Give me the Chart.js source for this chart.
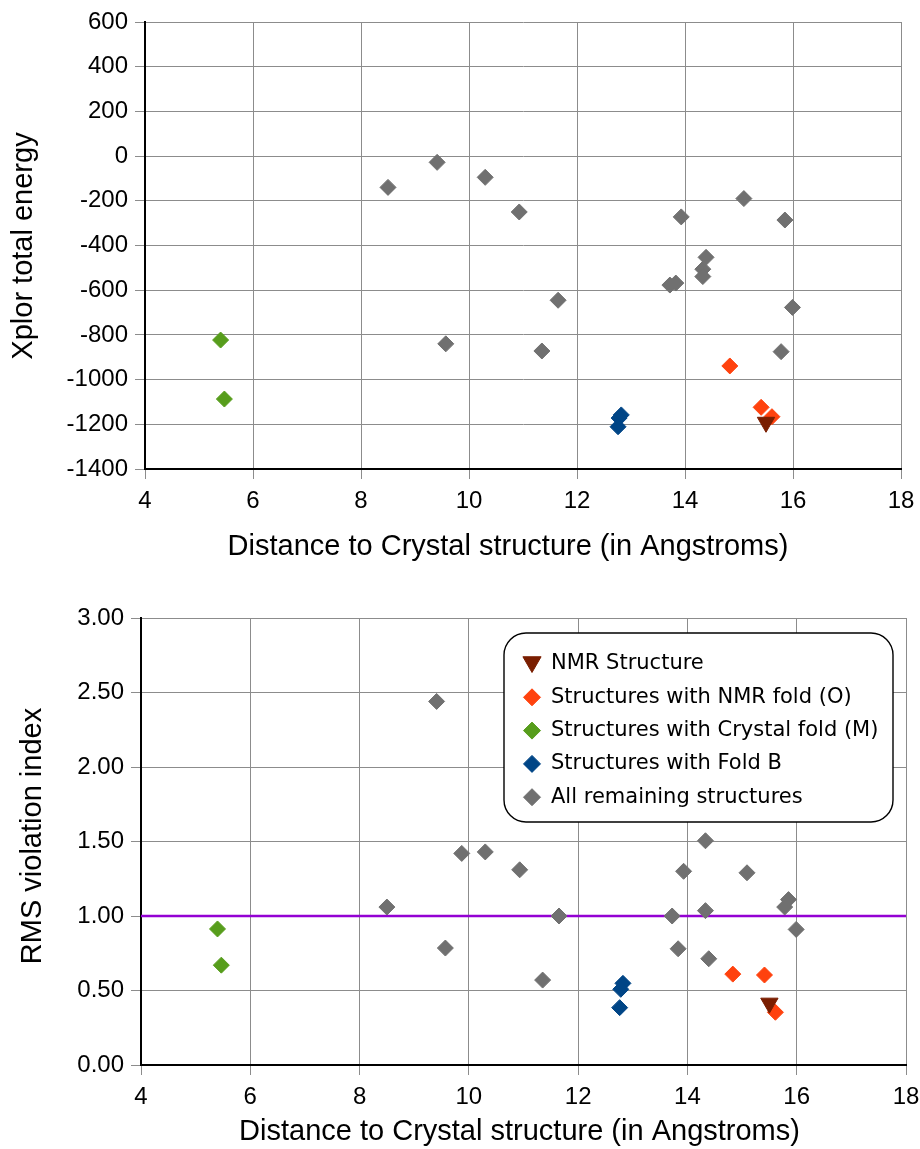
<!DOCTYPE html>
<html>
<head>
<meta charset="utf-8">
<script src="https://cdn.jsdelivr.net/npm/chart.js@4.4.1/dist/chart.umd.min.js"></script>
<style>
  html, body { margin: 0; padding: 0; background: #fff; }
  #wrap { position: relative; width: 920px; height: 1149px; overflow: hidden; }
  #energyChart { position: absolute; left: 0; top: 0; }
  #rmsChart { position: absolute; left: 0; top: 575px; }
</style>
</head>
<body>
<div id="wrap">
  <canvas id="energyChart" width="940" height="575"></canvas>
  <canvas id="rmsChart" width="940" height="580"></canvas>
</div>
<script>
// ─── DATA ──────────────────────────────────────────
const xTitle = 'Distance to Crystal structure (in Angstroms)';
const energyTitle = 'Xplor total energy';
const rmsTitle = 'RMS violation index';
const xTickMin = 4, xTickMax = 18, xTickStep = 2;
const energyMin = -1400, energyMax = 600, energyStep = 200;
const rmsMin = 0, rmsMax = 3, rmsStep = 0.5;
const rmsLimit = 1.0;

const seriesNames = [
  'NMR Structure',
  'Structures with NMR fold (O)',
  'Structures with Crystal fold (M)',
  'Structures with Fold B',
  'All remaining structures',
];

// NMR structure
const nmrDist = [15.50];
const nmrEnergy = [-1191];
const nmrRms = [0.415];

// NMR fold (O)
const nmrFoldDist = [14.83, 15.41, 15.61];
const nmrFoldEnergy = [-939, -1124, -1166];
const nmrFoldRms = [0.61, 0.604, 0.354];

// Crystal fold (M)
const crystalFoldDist = [5.40, 5.47];
const crystalFoldEnergy = [-823, -1087];
const crystalFoldRms = [0.913, 0.67];

// Fold B
const foldBDist = [12.82, 12.78, 12.76];
const foldBEnergy = [-1158, -1172, -1211];
const foldBRms = [0.548, 0.508, 0.385];

// remaining structures (null = outside the energy plot)
const otherDist = [8.50, 9.41, 9.57, 9.87, 10.30, 10.93, 11.35, 11.65, 13.72, 13.83, 13.93, 14.33, 14.33, 14.39, 15.09, 15.78, 15.85, 15.99];
const otherEnergy = [-140, -28, -840, null, -95, -250, -872, -645, -577, -568, -272, -506, -539, -453, -190, -875, -286, -677];
const otherRms = [1.06, 2.44, 0.785, 1.42, 1.43, 1.31, 0.57, 1.00, 1.00, 0.78, 1.30, 1.505, 1.036, 0.713, 1.29, 1.06, 1.11, 0.91];

// ─── STYLE ─────────────────────────────────────────
const colNmr = '#7a1e00';
const colNmrFold = '#ff420e';
const colCrystal = '#579d1c';
const colFoldB = '#004586';
const colOther = '#707070';
const colLimit = '#9400d3';
const gridCol = '#8c8c8c';
const axisFont = '"Liberation Sans", Arial, sans-serif';

function pts(xs, ys) {
  return xs.map((x, i) => ({ x, y: ys[i] })).filter(p => p.y !== null);
}

function makeDatasets(yNmr, yNmrFold, yCrystal, yFoldB, yOther) {
  const mk = (label, data, color, style, rot, r) => ({
    label, data,
    backgroundColor: color, borderColor: color, borderWidth: 1,
    pointStyle: style, rotation: rot, pointRadius: r, pointHoverRadius: r,
  });
  return [
    mk(seriesNames[0], pts(nmrDist, yNmr), colNmr, 'triangle', 180, 10),
    mk(seriesNames[1], pts(nmrFoldDist, yNmrFold), colNmrFold, 'rectRot', 0, 8),
    mk(seriesNames[2], pts(crystalFoldDist, yCrystal), colCrystal, 'rectRot', 0, 8),
    mk(seriesNames[3], pts(foldBDist, yFoldB), colFoldB, 'rectRot', 0, 8),
    mk(seriesNames[4], pts(otherDist, yOther), colOther, 'rectRot', 0, 8),
  ];
}

function xScale(height) {
  return {
    type: 'linear', position: 'bottom',
    min: xTickMin, max: xTickMax,
    ticks: { stepSize: xTickStep, color: '#000', padding: 8, maxRotation: 0,
             font: { family: axisFont, size: 24 } },
    grid: { color: gridCol, lineWidth: 1, tickLength: 10, tickColor: gridCol },
    border: { color: '#000', width: 2 },
    afterFit: s => { s.height = height; },
  };
}

function yScale(min, max, step, fmt, width) {
  return {
    type: 'linear', min, max,
    ticks: { stepSize: step, color: '#000', padding: 7, callback: fmt,
             font: { family: axisFont, size: 24 } },
    grid: { color: gridCol, lineWidth: 1, tickLength: 10, tickColor: gridCol },
    border: { color: '#000', width: 2 },
    afterFit: s => { s.width = width; },
  };
}

// ─── AXIS CAPTIONS PLUGIN ──────────────────────────
const axisCaptions = {
  id: 'axisCaptions',
  afterDraw(chart, args, o) {
    if (!o || !o.items) return;
    const ctx = chart.ctx;
    ctx.save();
    ctx.fillStyle = '#000';
    ctx.font = '29px ' + axisFont;
    ctx.textAlign = 'center';
    ctx.textBaseline = 'middle';
    o.items.forEach(c => {
      ctx.save();
      ctx.translate(c.x, c.y);
      if (c.vertical) ctx.rotate(-Math.PI / 2);
      ctx.fillText(c.text, 0, 0);
      ctx.restore();
    });
    ctx.restore();
  },
};

// ─── LEGEND BOX PLUGIN ─────────────────────────────
const boxLegend = {
  id: 'boxLegend',
  afterDatasetsDraw(chart, args, o) {
    if (!o || !o.show) return;
    const ctx = chart.ctx;
    ctx.save();
    ctx.beginPath();
    ctx.roundRect(o.x, o.y, o.w, o.h, o.r);
    ctx.fillStyle = '#fff';
    ctx.fill();
    ctx.lineWidth = 1.4;
    ctx.strokeStyle = '#000';
    ctx.stroke();

    const items = chart.data.datasets.filter(d => !d.noLegend);
    items.forEach((d, i) => {
      const cy = o.y + o.firstRow + i * o.rowGap;
      ctx.fillStyle = d.backgroundColor;
      ctx.strokeStyle = d.borderColor;
      ctx.lineWidth = 1;
      Chart.helpers.drawPoint(ctx, {
        pointStyle: d.pointStyle, rotation: d.rotation,
        radius: d.pointStyle === 'triangle' ? 10.5 : 8.5, borderWidth: 1,
      }, o.x + o.markerX, d.pointStyle === 'triangle' ? cy - 2 : cy);
      ctx.fillStyle = '#000';
      ctx.font = '21px "DejaVu Sans", sans-serif';
      ctx.textBaseline = 'middle';
      ctx.textAlign = 'left';
      ctx.fillText(d.label, o.x + o.textX, cy);
    });
    ctx.restore();
  },
};

const common = {
  responsive: false,
  animation: false,
  events: [],
};

// ─── ENERGY CHART ──────────────────────────────────
new Chart(document.getElementById('energyChart'), {
  type: 'scatter',
  data: { datasets: makeDatasets(nmrEnergy, nmrFoldEnergy, crystalFoldEnergy, foldBEnergy, otherEnergy) },
  plugins: [axisCaptions],
  options: {
    ...common,
    layout: { padding: { top: 22, right: 39, bottom: 0, left: 0 } },
    plugins: {
      legend: { display: false }, tooltip: { enabled: false },
      axisCaptions: { items: [
        { text: xTitle, x: 508, y: 547 },
        { text: energyTitle, x: 23.5, y: 246, vertical: true },
      ] },
    },
    scales: {
      x: xScale(106),
      y: yScale(energyMin, energyMax, energyStep, v => String(v), 145),
    },
  },
});

// ─── RMS CHART ─────────────────────────────────────
const rmsSets = makeDatasets(nmrRms, nmrFoldRms, crystalFoldRms, foldBRms, otherRms);
rmsSets.push({
  label: 'limit', noLegend: true, type: 'line',
  data: [{ x: xTickMin, y: rmsLimit }, { x: xTickMax, y: rmsLimit }],
  borderColor: colLimit, borderWidth: 2.5, pointRadius: 0, fill: false,
});

new Chart(document.getElementById('rmsChart'), {
  type: 'scatter',
  data: { datasets: rmsSets },
  plugins: [boxLegend, axisCaptions],
  options: {
    ...common,
    layout: { padding: { top: 43, right: 34, bottom: 0, left: 0 } },
    plugins: {
      legend: { display: false }, tooltip: { enabled: false },
      boxLegend: { show: true, x: 504, y: 58, w: 389, h: 189, r: 22,
                   firstRow: 31, rowGap: 33.3, markerX: 28, textX: 47 },
      axisCaptions: { items: [
        { text: xTitle, x: 519.5, y: 557 },
        { text: rmsTitle, x: 32.5, y: 261, vertical: true },
      ] },
    },
    scales: {
      x: xScale(90),
      y: yScale(rmsMin, rmsMax, rmsStep, v => v.toFixed(2), 141),
    },
  },
});
</script>
</body>
</html>
